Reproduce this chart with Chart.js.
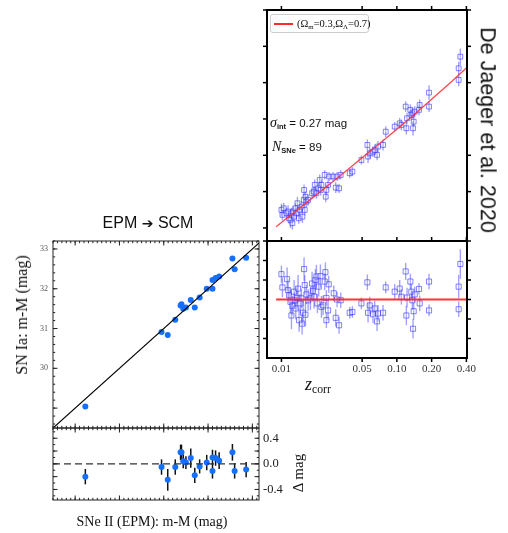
<!DOCTYPE html>
<html>
<head>
<meta charset="utf-8">
<script src="https://cdn.jsdelivr.net/npm/chart.js@4.4.1/dist/chart.umd.min.js"></script>
<style>
html, body { margin: 0; padding: 0; background: #fff; }
#wrap { position: relative; width: 508px; height: 533px; overflow: hidden; }
canvas { position: absolute; left: 0; top: 0; }
.t { position: absolute; white-space: nowrap; color: #111; line-height: 1; }
.c { transform: translate(-50%, -50%); }
.up { transform: translate(-50%, -50%) rotate(-90deg); }
.down { transform: translate(-50%, -50%) rotate(90deg); }
.serif { font-family: "Liberation Serif", "DejaVu Serif", serif; }
.sans { font-family: "Liberation Sans", "DejaVu Sans", sans-serif; }
sub { font-size: 65%; vertical-align: -0.25em; line-height: 0; }
</style>
</head>
<body>
<div id="wrap">
  <canvas id="epm" width="508" height="533"></canvas>
  <canvas id="epmRes" width="508" height="533"></canvas>
  <canvas id="hubble" width="508" height="533"></canvas>
  <canvas id="hubbleRes" width="508" height="533"></canvas>

  <div class="t c sans" style="left:148px; top:223px; font-size:16px;">EPM <span style="font-family:'DejaVu Sans'; font-size:14px;">&#10132;</span> SCM</div>
  <div class="t up serif" style="left:22px; top:315px; font-size:16px;">SN Ia: m-M (mag)</div>
  <div class="t c serif" style="left:152px; top:522px; font-size:14px;">SNe II (EPM): m-M (mag)</div>
  <div class="t up serif" style="left:298px; top:473px; font-size:15px;">&Delta; mag</div>
  <div class="t down sans" style="left:487px; top:130px; font-size:21.5px;">De Jaeger et al. 2020</div>
  <div class="t serif" style="left:305px; top:375px; font-size:18px;"><i>z</i><sub style="font-style:normal">corr</sub></div>

  <div class="t sans" style="left:270px; top:116px; font-size:11.5px;"><i class="serif" style="font-size:14px">&sigma;</i><sub><b>int</b></sub> = 0.27 mag</div>
  <div class="t sans" style="left:272px; top:140px; font-size:11.5px;"><i class="serif" style="font-size:14px">N</i><sub><b>SNe</b></sub> = 89</div>

  <div style="position:absolute; left:270px; top:14px; width:99px; height:19px; background:#fff; border:1px solid #ccc; border-radius:3px; box-sizing:border-box;">
    <div style="position:absolute; left:3px; top:8px; width:19px; height:1.5px; background:#ff2a2a;"></div>
    <div class="t serif" style="left:26px; top:4px; font-size:10.5px;">(&Omega;<sub>m</sub>=0.3,&Omega;<sub>&Lambda;</sub>=0.7)</div>
  </div>
</div>

<script>
// SN II (EPM) vs SN Ia distance moduli
const epmMu = [29.23, 30.95, 31.09, 31.26, 31.38, 31.40, 31.44, 31.50, 31.61, 31.70, 31.81, 31.97, 32.10, 32.10, 32.17, 32.25, 32.55, 32.60, 32.86];
const iaMu = [29.04, 30.91, 30.84, 31.22, 31.58, 31.61, 31.50, 31.53, 31.72, 31.53, 31.78, 32.00, 32.00, 32.22, 32.27, 32.31, 32.76, 32.49, 32.78];
const epmDelta = [-0.20, -0.05, -0.25, -0.05, 0.18, 0.18, 0.04, 0.02, 0.09, -0.18, -0.04, 0.02, -0.11, 0.10, 0.09, 0.05, 0.18, -0.11, -0.09];
const epmErr = [0.12, 0.12, 0.17, 0.12, 0.12, 0.12, 0.11, 0.10, 0.15, 0.12, 0.11, 0.12, 0.12, 0.12, 0.12, 0.13, 0.13, 0.12, 0.12];

// Hubble diagram (top right)
const zTop = [0.0100, 0.0102, 0.01047, 0.01105, 0.01142, 0.01165, 0.01197, 0.01221, 0.01245, 0.01262,
  0.01287, 0.01322, 0.01349, 0.01376, 0.01413, 0.01441, 0.0149, 0.0152, 0.01561, 0.01571,
  0.01592, 0.01614, 0.01646, 0.01702, 0.01843, 0.01905, 0.01944, 0.02009, 0.02076, 0.02146,
  0.02189, 0.0222, 0.02372, 0.0242, 0.02452, 0.02535, 0.02587, 0.02799, 0.02954, 0.03034,
  0.03157, 0.03264, 0.03904, 0.04118, 0.04928, 0.05553, 0.05628, 0.05817, 0.06217, 0.06427,
  0.06733, 0.06868, 0.07591, 0.08005, 0.09577, 0.1058, 0.1094, 0.1192, 0.1208, 0.1225,
  0.1309, 0.1335, 0.1362, 0.138, 0.1398, 0.1427, 0.1555, 0.1576, 0.1899, 0.1899,
  0.343, 0.343, 0.3546];
const muTop = [33.99, 33.72, 34.08, 33.81, 33.90, 33.53, 33.44, 33.81, 33.26, 33.90,
  33.62, 34.08, 33.81, 34.36, 33.53, 33.99, 34.17, 33.62, 34.54, 35.09,
  33.99, 34.72, 34.45, 34.54, 34.91, 35.00, 35.37, 34.91, 35.18, 35.64,
  35.09, 35.37, 35.92, 34.72, 35.09, 35.37, 35.83, 35.83, 35.22, 35.83,
  35.18, 35.92, 36.01, 36.10, 36.74, 37.57, 36.93, 37.11, 37.20, 37.29,
  37.02, 37.48, 37.57, 38.30, 38.58, 38.76, 38.67, 39.68, 38.49, 39.04,
  39.50, 39.22, 39.31, 38.49, 38.85, 39.40, 39.50, 39.77, 40.45, 39.68,
  41.15, 41.79, 42.43];
const errTop = [0.35, 0.3, 0.3, 0.3, 0.35, 0.3, 0.45, 0.3, 0.35, 0.3,
  0.3, 0.3, 0.3, 0.35, 0.3, 0.3, 0.3, 0.35, 0.3, 0.3,
  0.3, 0.3, 0.3, 0.3, 0.3, 0.3, 0.3, 0.3, 0.3, 0.3,
  0.3, 0.3, 0.25, 0.3, 0.3, 0.25, 0.25, 0.25, 0.3, 0.25,
  0.25, 0.25, 0.25, 0.25, 0.25, 0.3, 0.35, 0.3, 0.3, 0.3,
  0.3, 0.3, 0.3, 0.3, 0.25, 0.3, 0.3, 0.3, 0.35, 0.3,
  0.3, 0.3, 0.3, 0.4, 0.3, 0.3, 0.3, 0.3, 0.4, 0.3,
  0.35, 0.35, 0.45];

// LCDM curve
const zModel = [0.009, 0.01, 0.02, 0.03, 0.05, 0.07, 0.1, 0.15, 0.2, 0.3, 0.41];
const muModel = [33.07, 33.30, 34.82, 35.71, 36.86, 37.62, 38.44, 39.39, 40.08, 41.08, 41.87];

// Hubble residuals (bottom right)
const zRes = [0.0100, 0.0102, 0.0112, 0.01142, 0.01165, 0.01197, 0.01221, 0.01245, 0.01287, 0.01304,
  0.01331, 0.01366, 0.01394, 0.01422, 0.0146, 0.0149, 0.0151, 0.0154, 0.01571, 0.01592,
  0.01614, 0.01646, 0.01702, 0.01783, 0.01843, 0.0188, 0.01918, 0.0197, 0.02009, 0.02049,
  0.02104, 0.02176, 0.0222, 0.02295, 0.02372, 0.02404, 0.02452, 0.02452, 0.02535, 0.02569,
  0.02838, 0.02954, 0.03034, 0.03157, 0.03264,
  0.03904, 0.04118, 0.04928, 0.05553, 0.05628, 0.05817, 0.06217, 0.06427, 0.06733, 0.06868, 0.07591, 0.08005,
  0.09577, 0.1058, 0.1094, 0.1192, 0.1208, 0.1225, 0.1309, 0.1335, 0.1362, 0.138,
  0.1398, 0.1427, 0.1555, 0.1576, 0.1899, 0.1899, 0.343, 0.343, 0.3546];
const dRes = [0.65, 0.31, 0.52, 0.24, 0.11, -0.06, -0.41, -0.16, 0.20, -0.02,
  -0.23, 0.04, 0.28, -0.53, -0.10, 0.03, -0.62, -0.34, 0.78, 0.37,
  -0.39, 0.13, -0.02, 0.03, 0.41, 0.22, 0.07, 0.50, 0.59, -0.10,
  0.33, 0.60, -0.19, -0.15, 0.46, 0.70, 0.04, -0.53, -0.28, 0.39,
  0.16, -0.47, 0.00, -0.66, -0.02,
  -0.34, -0.32, -0.10, 0.44, -0.34, -0.15, -0.38, -0.23, -0.56, -0.36, -0.34, 0.31,
  0.20, 0.28, 0.07, 0.72, -0.41, 0.05, 0.46, 0.20, -0.02, -0.75,
  -0.30, 0.13, 0.27, -0.10, 0.46, -0.28, 0.33, -0.25, 0.91];
const errRes = [0.22, 0.25, 0.3, 0.28, 0.2, 0.3, 0.35, 0.25, 0.3, 0.22,
  0.28, 0.3, 0.35, 0.3, 0.25, 0.25, 0.28, 0.3, 0.3, 0.25,
  0.3, 0.25, 0.28, 0.3, 0.3, 0.25, 0.3, 0.28, 0.3, 0.25,
  0.25, 0.3, 0.28, 0.25, 0.22, 0.25, 0.2, 0.2, 0.25, 0.22,
  0.2, 0.22, 0.2, 0.22, 0.2,
  0.15, 0.15, 0.15, 0.2, 0.25, 0.22, 0.22, 0.2, 0.25, 0.22, 0.2, 0.15,
  0.2, 0.22, 0.2, 0.22, 0.25, 0.25, 0.2, 0.2, 0.25, 0.25,
  0.22, 0.2, 0.15, 0.2, 0.2, 0.15, 0.3, 0.2, 0.38];

// tick values
const muTicks = [29, 30, 31, 32, 33];
const muTickLabels = [30, 31, 32, 33];
const deltaTickLabels = [-0.4, 0, 0.4];
const deltaTicks = [-0.4, -0.2, 0, 0.2, 0.4];
const zTicks = [0.01, 0.05, 0.1, 0.2, 0.4];
const hubbleTicks = [33, 35, 37, 39, 41, 43, 45];
const resTicks = [-1, -0.5, 0, 0.5, 1, 1.5];

const ptBlue = '#1570ff';
const sqBlue = 'rgba(50,50,255,0.6)';
const barBlue = 'rgba(50,50,255,0.45)';

function steps(a, b, d) {
  const out = [];
  for (let v = a; v <= b + 1e-9; v += d) out.push(+v.toFixed(4));
  return out;
}
function pts(xs, ys) { return xs.map((v, i) => ({ x: v, y: ys[i] })); }

// frame with tick marks on all sides
const frame = {
  id: 'frame',
  afterDraw(chart, args, o) {
    const { ctx, chartArea: a, scales } = chart;
    const s = o.inward ? 1 : -1;
    ctx.save();
    ctx.strokeStyle = o.color;
    ctx.lineWidth = o.tickWidth;
    const put = (axis, vals, len, sides) => {
      vals.forEach(v => {
        const p = scales[axis].getPixelForValue(v);
        sides.forEach(side => {
          ctx.beginPath();
          if (axis === 'x') {
            if (p < a.left - 0.5 || p > a.right + 0.5) return;
            const y0 = side === 'top' ? a.top : a.bottom;
            ctx.moveTo(p, y0);
            ctx.lineTo(p, y0 + (side === 'top' ? s : -s) * len);
          } else {
            if (p < a.top - 0.5 || p > a.bottom + 0.5) return;
            const x0 = side === 'left' ? a.left : a.right;
            ctx.moveTo(x0, p);
            ctx.lineTo(x0 + (side === 'left' ? s : -s) * len, p);
          }
          ctx.stroke();
        });
      });
    };
    put('x', o.xMajor, o.majorLen, o.xSides);
    put('x', o.xMinor || [], o.minorLen, o.xSides);
    put('y', o.yMajor, o.majorLen, o.ySides);
    put('y', o.yMinor || [], o.minorLen, o.ySides);
    ctx.lineWidth = o.border;
    ctx.strokeRect(a.left, a.top, a.right - a.left, a.bottom - a.top);
    ctx.restore();
  }
};

// vertical error bars from dataset.errors
const errorBars = {
  id: 'errorBars',
  beforeDatasetsDraw(chart) {
    const { ctx, chartArea: a, scales } = chart;
    chart.data.datasets.forEach(ds => {
      if (!ds.errors) return;
      ctx.save();
      ctx.beginPath();
      ctx.rect(a.left, a.top, a.right - a.left, a.bottom - a.top);
      ctx.clip();
      ctx.strokeStyle = ds.errorColor;
      ctx.lineWidth = ds.errorWidth;
      ds.data.forEach((p, i) => {
        const x = scales.x.getPixelForValue(p.x);
        ctx.beginPath();
        ctx.moveTo(x, scales.y.getPixelForValue(p.y - ds.errors[i]));
        ctx.lineTo(x, scales.y.getPixelForValue(p.y + ds.errors[i]));
        ctx.stroke();
      });
      ctx.restore();
    });
  }
};

function common(pad, frameOpts) {
  return {
    responsive: false,
    animation: false,
    devicePixelRatio: 1,
    events: [],
    layout: { padding: pad },
    plugins: { legend: { display: false }, tooltip: { enabled: false }, frame: frameOpts }
  };
}

const leftFrame = { inward: true, color: '#222', border: 1, tickWidth: 1, majorLen: 4.5, minorLen: 2.2 };
const serifFont = 'Liberation Serif';

// EPM vs SCM
new Chart(document.getElementById('epm'), {
  type: 'scatter',
  data: {
    datasets: [
      { data: [{ x: 28.5, y: 28.5 }, { x: 33.2, y: 33.2 }], showLine: true, borderColor: '#000', borderWidth: 1.2, pointRadius: 0 },
      { data: pts(epmMu, iaMu), pointRadius: 3, pointBackgroundColor: ptBlue, pointBorderWidth: 0 }
    ]
  },
  options: Object.assign(common({ left: 33, top: 241, right: 249, bottom: 105 },
    Object.assign({}, leftFrame, {
      xMajor: muTicks, xMinor: steps(28.5, 33.2, 0.1), xSides: ['top', 'bottom'],
      yMajor: muTicks, yMinor: steps(28.6, 33.2, 0.2), ySides: ['left', 'right']
    })), {
    scales: {
      x: { type: 'linear', min: 28.5, max: 33.15, display: false },
      y: {
        type: 'linear', min: 28.5, max: 33.2,
        grid: { display: false, drawTicks: false }, border: { display: false },
        afterBuildTicks: s => { s.ticks = muTickLabels.map(v => ({ value: v })); },
        afterFit: s => { s.width = 20; },
        ticks: { padding: 5, color: '#555', font: { family: serifFont, size: 8 }, callback: v => String(v) }
      }
    }
  }),
  plugins: [frame]
});

// EPM residuals
new Chart(document.getElementById('epmRes'), {
  type: 'scatter',
  data: {
    datasets: [
      { data: [{ x: 28.5, y: 0 }, { x: 33.2, y: 0 }], showLine: true, borderColor: '#333', borderWidth: 1.4, borderDash: [7, 4], pointRadius: 0 },
      { data: pts(epmMu, epmDelta), pointRadius: 3, pointBackgroundColor: ptBlue, pointBorderWidth: 0,
        errors: epmErr, errorColor: '#111', errorWidth: 1.5 }
    ]
  },
  options: Object.assign(common({ left: 53, top: 428, right: 219, bottom: 33 },
    Object.assign({}, leftFrame, {
      xMajor: muTicks, xMinor: steps(28.5, 33.2, 0.1), xSides: ['top', 'bottom'],
      yMajor: deltaTicks, yMinor: steps(-0.5, 0.5, 0.1), ySides: ['left', 'right']
    })), {
    scales: {
      x: { type: 'linear', min: 28.5, max: 33.15, display: false },
      y: {
        type: 'linear', position: 'right', min: -0.565, max: 0.56,
        grid: { display: false, drawTicks: false }, border: { display: false },
        afterBuildTicks: s => { s.ticks = deltaTickLabels.map(v => ({ value: v })); },
        afterFit: s => { s.width = 30; },
        ticks: { padding: 4, color: '#222', font: { family: serifFont, size: 12.5 }, callback: v => Number(v).toFixed(1) }
      }
    }
  }),
  plugins: [frame, errorBars]
});

const rightFrame = { inward: false, color: '#000', border: 2, tickWidth: 1.5, majorLen: 4, minorLen: 2 };

// Hubble diagram
new Chart(document.getElementById('hubble'), {
  type: 'scatter',
  data: {
    datasets: [
      { data: pts(zModel, muModel), showLine: true, borderColor: 'rgba(255,40,40,0.85)', borderWidth: 1.3, pointRadius: 0 },
      { data: pts(zTop, muTop), pointStyle: 'rect', pointRadius: 3.4, pointBorderColor: sqBlue, pointBorderWidth: 1,
        pointBackgroundColor: 'rgba(255,255,255,0.2)', errors: errTop, errorColor: barBlue, errorWidth: 1.4 }
    ]
  },
  options: Object.assign(common({ left: 267, top: 10, right: 41, bottom: 292 },
    Object.assign({}, rightFrame, {
      xMajor: zTicks, xSides: ['top'],
      yMajor: hubbleTicks, ySides: ['left', 'right']
    })), {
    scales: {
      x: { type: 'logarithmic', min: 0.0075, max: 0.405, display: false },
      y: { type: 'linear', min: 32.28, max: 45, display: false }
    }
  }),
  plugins: [frame, errorBars]
});

// Hubble residuals
new Chart(document.getElementById('hubbleRes'), {
  type: 'scatter',
  data: {
    datasets: [
      { data: [{ x: 0.009, y: 0 }, { x: 0.405, y: 0 }], showLine: true, borderColor: 'rgba(255,30,30,0.9)', borderWidth: 2, pointRadius: 0 },
      { data: pts(zRes, dRes), pointStyle: 'rect', pointRadius: 3.6, pointBorderColor: sqBlue, pointBorderWidth: 1,
        pointBackgroundColor: 'rgba(255,255,255,0.2)', errors: errRes, errorColor: barBlue, errorWidth: 1.4 }
    ]
  },
  options: Object.assign(common({ left: 267, top: 241, right: 41, bottom: 155 },
    Object.assign({}, rightFrame, {
      xMajor: zTicks, xSides: ['top', 'bottom'],
      yMajor: resTicks, ySides: ['left', 'right']
    })), {
    scales: {
      x: {
        type: 'logarithmic', min: 0.0075, max: 0.405,
        grid: { display: false, drawTicks: false }, border: { display: false },
        afterBuildTicks: s => { s.ticks = zTicks.map(v => ({ value: v })); },
        afterFit: s => { s.height = 20; },
        ticks: { padding: 5, autoSkip: false, maxRotation: 0, color: '#333', font: { family: serifFont, size: 11 },
          callback: v => Number(v).toFixed(2) }
      },
      y: { type: 'linear', min: -1.5, max: 1.5, display: false }
    }
  }),
  plugins: [frame, errorBars]
});
</script>
</body>
</html>
